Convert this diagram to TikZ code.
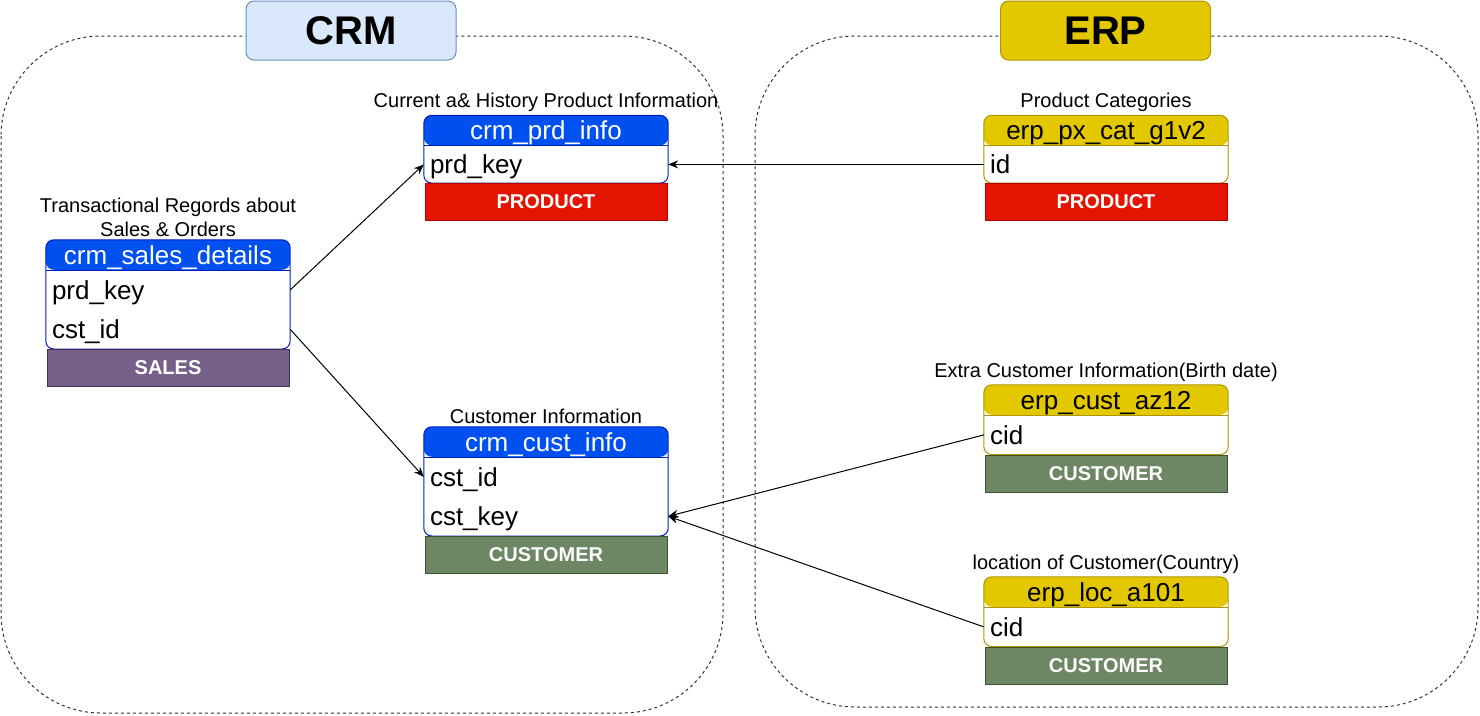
\documentclass[tikz,border=0pt]{standalone}
\usepackage{fontspec}
\setmainfont{Liberation Sans}
\usetikzlibrary{arrows.meta,positioning,fit,backgrounds}
\definecolor{crmblue}{HTML}{0050EF}
\definecolor{crmbluedk}{HTML}{001DBC}
\definecolor{erpgold}{HTML}{E3C800}
\definecolor{erpgolddk}{HTML}{B09500}
\definecolor{prodred}{HTML}{E51400}
\definecolor{prodreddk}{HTML}{B20000}
\definecolor{salesvio}{HTML}{76608A}
\definecolor{salesviodk}{HTML}{432D57}
\definecolor{custgrn}{HTML}{6D8764}
\definecolor{custgrndk}{HTML}{3A5431}
\definecolor{titleblue}{HTML}{DAE8FC}
\definecolor{titlebluedk}{HTML}{6C8EBF}
\definecolor{zone}{HTML}{333333}
\tikzset{
  zonebox/.style={draw=zone, line width=1pt, dash pattern=on 3pt off 3pt, rounded corners=100pt},
  titlebox/.style={line width=1pt, rounded corners=8pt, minimum width=210pt, minimum height=59pt,
                   font=\fontsize{40}{44}\selectfont\bfseries},
  hdr/.style={minimum width=244pt, minimum height=30pt, inner ysep=0pt, text height=20pt, text depth=2pt,
              font=\fontsize{26}{29}\selectfont},
  rowc/.style={text width=232pt, inner xsep=6pt, inner ysep=0pt, minimum height=39pt, align=left,
               text height=21pt, text depth=2pt, font=\fontsize{26}{29}\selectfont},
  tag/.style={line width=1pt, minimum width=242pt, minimum height=37pt, text=white,
              font=\fontsize{20}{24}\selectfont\bfseries},
  tcap/.style={align=center, inner sep=2pt, font=\fontsize{20}{24}\selectfont},
  tframe/.style={draw=#1, line width=1pt, rounded corners=8pt, inner sep=0pt, fill=white},
  hdrfill/.style={path picture={\fill[#1] (path picture bounding box.north west)
                  rectangle ([yshift=-30pt]path picture bounding box.north east);}},
  hsep/.style={draw=#1, line width=1pt},
  link/.style={-{Stealth[length=10pt,width=8pt]}, line width=1pt, draw=black},
}
\begin{document}
\begin{tikzpicture}[x=1pt, y=-1pt, node distance=0pt]
  \useasboundingbox (0,0) rectangle (1480,715);
  % source systems
  \draw[zonebox] (1,36) rectangle (723,713);
  \draw[zonebox] (755,36) rectangle (1478,707);
  \node[titlebox, fill=titleblue, draw=titlebluedk] (crm) at (351,30.5) {CRM};
  \node[titlebox, fill=erpgold, draw=erpgolddk] (erp) at (1105.5,30.5) {ERP};

  % crm tables
  \node[hdr, text=white] (prdH) at (546,130.5) {crm\_prd\_info};
  \node[rowc, minimum height=37pt, below=of prdH] (prdKey) {prd\_key};
  \node[tag, fill=prodred, draw=prodreddk, below=of prdKey] (prdTag) {PRODUCT};
  \node[tcap, above=1pt of prdH] (prdCap) {Current a\& History Product Information};

  \node[hdr, text=white] (salesH) at (168,255) {crm\_sales\_details};
  \node[rowc, below=of salesH] (salesPrd) {prd\_key};
  \node[rowc, below=of salesPrd] (salesCst) {cst\_id};
  \node[tag, fill=salesvio, draw=salesviodk, below=of salesCst] (salesTag) {SALES};
  \node[tcap, above=1pt of salesH] (salesCap) {Transactional Regords about\\Sales \& Orders};

  \node[hdr, text=white] (custH) at (546,442) {crm\_cust\_info};
  \node[rowc, below=of custH] (custId) {cst\_id};
  \node[rowc, below=of custId] (custKey) {cst\_key};
  \node[tag, fill=custgrn, draw=custgrndk, below=of custKey] (custTag) {CUSTOMER};
  \node[tcap, above=1pt of custH] (custCap) {Customer Information};

  % erp tables
  \node[hdr] (catH) at (1106,130.5) {erp\_px\_cat\_g1v2};
  \node[rowc, minimum height=37pt, below=of catH] (catId) {id};
  \node[tag, fill=prodred, draw=prodreddk, below=of catId] (catTag) {PRODUCT};
  \node[tcap, above=1pt of catH] (catCap) {Product Categories};

  \node[hdr] (azH) at (1106,400) {erp\_cust\_az12};
  \node[rowc, below=of azH] (azCid) {cid};
  \node[tag, fill=custgrn, draw=custgrndk, below=of azCid] (azTag) {CUSTOMER};
  \node[tcap, above=1pt of azH] (azCap) {Extra Customer Information(Birth date)};

  \node[hdr] (locH) at (1106,592) {erp\_loc\_a101};
  \node[rowc, below=of locH] (locCid) {cid};
  \node[tag, fill=custgrn, draw=custgrndk, below=of locCid] (locTag) {CUSTOMER};
  \node[tcap, above=1pt of locH] (locCap) {location of Customer(Country)};

  % table frames behind the text
  \begin{scope}[on background layer]
    \node[tframe=crmbluedk, hdrfill=crmblue, fit=(prdH)(prdKey)] (prdF) {};
    \node[tframe=crmbluedk, hdrfill=crmblue, fit=(salesH)(salesCst)] (salesF) {};
    \node[tframe=crmbluedk, hdrfill=crmblue, fit=(custH)(custKey)] (custF) {};
    \node[tframe=erpgolddk, hdrfill=erpgold, fit=(catH)(catId)] (catF) {};
    \node[tframe=erpgolddk, hdrfill=erpgold, fit=(azH)(azCid)] (azF) {};
    \node[tframe=erpgolddk, hdrfill=erpgold, fit=(locH)(locCid)] (locF) {};
  \end{scope}
  \draw[hsep=crmbluedk] (prdH.south west) -- (prdH.south east);
  \draw[hsep=crmbluedk] (salesH.south west) -- (salesH.south east);
  \draw[hsep=crmbluedk] (custH.south west) -- (custH.south east);
  \draw[hsep=erpgolddk] (catH.south west) -- (catH.south east);
  \draw[hsep=erpgolddk] (azH.south west) -- (azH.south east);
  \draw[hsep=erpgolddk] (locH.south west) -- (locH.south east);

  % relations
  \draw[link] (catId.west) -- (prdKey.east);
  \draw[link] (salesPrd.east) -- (prdKey.west);
  \draw[link] (salesCst.east) -- (custId.west);
  \draw[link] (azCid.west) -- (custKey.east);
  \draw[link] (locCid.west) -- (custKey.east);
\end{tikzpicture}
\end{document}
